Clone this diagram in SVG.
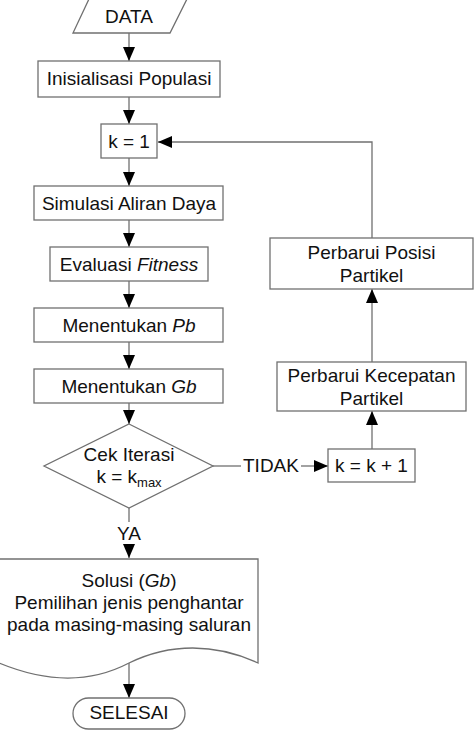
<svg xmlns="http://www.w3.org/2000/svg" width="474" height="730" viewBox="0 0 474 730">
<style>
.n{fill:#fff;stroke:#707070;stroke-width:1.3}
.c{fill:none;stroke:#707070;stroke-width:1.3}
text{font-family:"Liberation Sans",Arial,sans-serif;font-size:19px;fill:#111;text-anchor:middle}
.i{font-style:italic}
</style>
<defs>
<marker id="ah" markerUnits="userSpaceOnUse" markerWidth="14" markerHeight="12" refX="14" refY="6" orient="auto">
<path d="M0,0 L14,6 L0,12 z" fill="#000"/>
</marker>
</defs>
<rect width="474" height="730" fill="#fff"/>
<g id="connectors">
<line class="c" x1="129" y1="33" x2="129" y2="61" marker-end="url(#ah)"/>
<line class="c" x1="129" y1="97" x2="129" y2="124" marker-end="url(#ah)"/>
<line class="c" x1="129" y1="158" x2="129" y2="186" marker-end="url(#ah)"/>
<line class="c" x1="129" y1="220" x2="129" y2="247" marker-end="url(#ah)"/>
<line class="c" x1="129" y1="281" x2="129" y2="308" marker-end="url(#ah)"/>
<line class="c" x1="129" y1="342" x2="129" y2="369" marker-end="url(#ah)"/>
<line class="c" x1="129" y1="403" x2="129" y2="424" marker-end="url(#ah)"/>
<line class="c" x1="129" y1="508" x2="129" y2="522"/>
<text x="129" y="540">YA</text>
<line class="c" x1="129" y1="544" x2="129" y2="558" marker-end="url(#ah)"/>
<line class="c" x1="129" y1="663" x2="129" y2="698" marker-end="url(#ah)"/>
<line class="c" x1="213" y1="466" x2="241" y2="466"/>
<text x="271" y="472">TIDAK</text>
<line class="c" x1="301" y1="466" x2="328" y2="466" marker-end="url(#ah)"/>
<line class="c" x1="372" y1="449" x2="372" y2="411" marker-end="url(#ah)"/>
<line class="c" x1="372" y1="362" x2="372" y2="289" marker-end="url(#ah)"/>
<polyline class="c" points="372,238 372,142 158,142" marker-end="url(#ah)"/>
</g>
<g id="data">
<polygon class="n" points="89,-1 187,-1 170,33 73,33"/>
<text x="129" y="23">DATA</text>
</g>
<g id="init">
<rect class="n" x="38" y="61" width="182" height="36"/>
<text x="129" y="85">Inisialisasi Populasi</text>
</g>
<g id="k1">
<rect class="n" x="101" y="124" width="56" height="34"/>
<text x="129" y="148">k = 1</text>
</g>
<g id="simulasi">
<rect class="n" x="34" y="186" width="189" height="34"/>
<text x="129" y="210">Simulasi Aliran Daya</text>
</g>
<g id="evaluasi">
<rect class="n" x="50" y="247" width="158" height="34"/>
<text x="129" y="271">Evaluasi <tspan class="i">Fitness</tspan></text>
</g>
<g id="pb">
<rect class="n" x="34" y="308" width="189" height="34"/>
<text x="129" y="332">Menentukan <tspan class="i">Pb</tspan></text>
</g>
<g id="gb">
<rect class="n" x="34" y="369" width="189" height="34"/>
<text x="129" y="393">Menentukan <tspan class="i">Gb</tspan></text>
</g>
<g id="cek">
<polygon class="n" points="129,424 213,466 129,508 44,466"/>
<text x="129" y="461">Cek Iterasi</text>
<text x="129" y="483">k = k<tspan font-size="13" dy="4">max</tspan></text>
</g>
<g id="kinc">
<rect class="n" x="328" y="449" width="87" height="33"/>
<text x="371.5" y="472">k = k + 1</text>
</g>
<g id="kecepatan">
<rect class="n" x="277" y="362" width="189" height="49"/>
<text x="371.5" y="382">Perbarui Kecepatan</text>
<text x="371.5" y="405">Partikel</text>
</g>
<g id="posisi">
<rect class="n" x="270" y="238" width="203" height="51"/>
<text x="371.5" y="259">Perbarui Posisi</text>
<text x="371.5" y="282">Partikel</text>
</g>
<g id="solusi">
<path class="n" d="M-1,559 L258,559 L258,663 C215,643 170,643 129,663 C85,686 40,680 -1,663 Z"/>
<text x="129" y="587">Solusi (<tspan class="i">Gb</tspan>)</text>
<text x="129" y="609">Pemilihan jenis penghantar</text>
<text x="129" y="631">pada masing-masing saluran</text>
</g>
<g id="selesai">
<rect class="n" x="73" y="698" width="112" height="31" rx="15.5"/>
<text x="129" y="719">SELESAI</text>
</g>
</svg>
